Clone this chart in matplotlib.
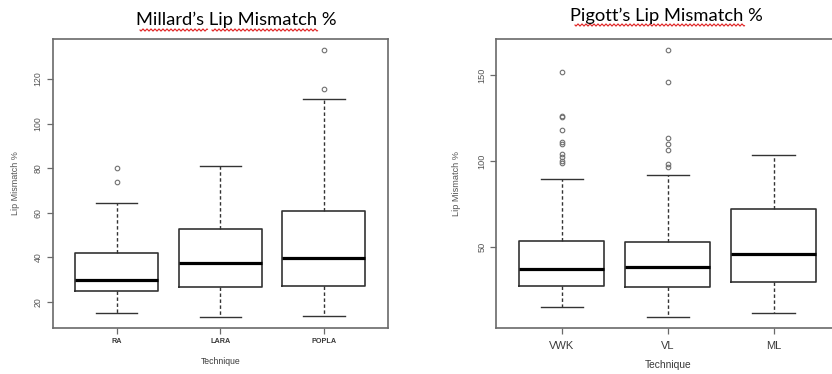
import numpy as np
import matplotlib.pyplot as plt
from matplotlib.lines import Line2D

# --- Millard's data ---
mil_labels = ['RA', 'LARA', 'POPLA']
mil_q1 = [24.8, 26.6, 27.0]
mil_med = [29.9, 37.6, 39.6]
mil_q3 = [42.1, 52.9, 60.7]
mil_lo = [14.9, 13.4, 13.7]
mil_hi = [64.4, 81.0, 111.2]
mil_fliers = [[73.7, 80.0], [], [115.5, 132.9]]

# --- Pigott's data ---
pig_labels = ['VWK', 'VL', 'ML']
pig_q1 = [27.7, 27.1, 29.7]
pig_med = [37.6, 38.7, 46.1]
pig_q3 = [53.8, 53.1, 72.0]
pig_lo = [15.2, 9.4, 12.0]
pig_hi = [89.5, 92.0, 103.4]
pig_fliers = [[98.9, 100.3, 102.2, 104.0, 110.0, 111.3, 118.1, 125.5, 126.0, 151.6],
              [96.8, 98.3, 106.5, 110.1, 113.6, 145.9, 164.5],
              []]

W, H = 832, 374
fig = plt.figure(figsize=(W/100, H/100), dpi=100)

frame_col = '#6a6a6a'
line_col = '#333333'
txt_col = '#555555'


def make_stats(q1, med, q3, lo, hi, fl):
    out = []
    for i in range(len(med)):
        out.append(dict(q1=q1[i], med=med[i], q3=q3[i], whislo=lo[i],
                        whishi=hi[i], fliers=fl[i]))
    return out


def draw_box(ax, stats, labels, ylim, yticks, tick_fs, xtick_fs, xbold, lab_fs, tech_fs,
             ylpad, xpad, tlpad):
    ax.bxp(stats, positions=[1, 2, 3], widths=0.8, showfliers=True,
           boxprops=dict(color=line_col, linewidth=1.2),
           medianprops=dict(color='black', linewidth=2.3),
           whiskerprops=dict(color=line_col, linewidth=1.0, linestyle=(0, (2.5, 1.8))),
           capprops=dict(color=line_col, linewidth=1.0),
           capwidths=0.4,
           flierprops=dict(marker='o', markersize=3.3, markerfacecolor='none',
                           markeredgecolor='#707070', markeredgewidth=0.8))
    ax.set_xlim(0.38, 3.62)
    ax.set_ylim(*ylim)
    ax.set_yticks(yticks)
    ax.set_xticks([1, 2, 3])
    ax.set_xticklabels(labels, fontsize=xtick_fs, color='#3a3a3a',
                       fontweight='bold' if xbold else 'normal',
                       family='Liberation Sans')
    for t in ax.get_yticklabels():
        t.set_rotation(90)
        t.set_va('center')
        t.set_fontsize(tick_fs)
        t.set_color(txt_col)
        t.set_family('Liberation Sans')
    ax.tick_params(axis='y', length=4, width=0.9, color=frame_col, pad=3)
    ax.tick_params(axis='x', length=4, width=0.9, color=frame_col, pad=xpad)
    for s in ax.spines.values():
        s.set_color(frame_col)
        s.set_linewidth(1.2)
    ax.set_ylabel('Lip Mismatch %', fontsize=lab_fs, color=txt_col,
                  family='Liberation Sans', labelpad=ylpad)
    ax.set_xlabel('Technique', fontsize=tech_fs, color='#3a3a3a',
                  family='Liberation Sans', labelpad=tlpad)


ax1 = fig.add_axes([52.5/W, 1 - 328/H, 335.5/W, 289/H])
draw_box(ax1, make_stats(mil_q1, mil_med, mil_q3, mil_lo, mil_hi, mil_fliers),
         mil_labels, (8.3, 137.9), [20, 40, 60, 80, 100, 120], 6.3, 5.2, True, 6.5, 6.2,
         10, 3.5, 8)

ax2 = fig.add_axes([496/W, 1 - 328.3/H, 343.4/W, 289/H])
draw_box(ax2, make_stats(pig_q1, pig_med, pig_q3, pig_lo, pig_hi, pig_fliers),
         pig_labels, (3.0, 170.7), [50, 100, 150], 6.6, 8.0, False, 6.6, 7.4,
         12, 5.5, 6)

# titles
fig.text(236/W, 1 - 20/H, 'Millard\u2019s Lip Mismatch %', ha='center', va='center',
         fontsize=13.2, family='Lato', color='black')
fig.text(666/W, 1 - 16/H, 'Pigott\u2019s Lip Mismatch %', ha='center', va='center',
         fontsize=13.2, family='Lato', color='black')


# red spell-check squiggles under the titles
def squiggle(x0, x1, y):
    xs = np.arange(x0, x1, 0.5)
    ys = y + 1.0 * np.sin((xs - x0) / 4.0 * 2 * np.pi)
    fig.add_artist(Line2D(xs / W, 1 - ys / H, color='#e02020', linewidth=0.8))


squiggle(140, 208, 30)
squiggle(212, 318, 30)
squiggle(575, 745, 25)

fig.savefig('out.png', dpi=100)
